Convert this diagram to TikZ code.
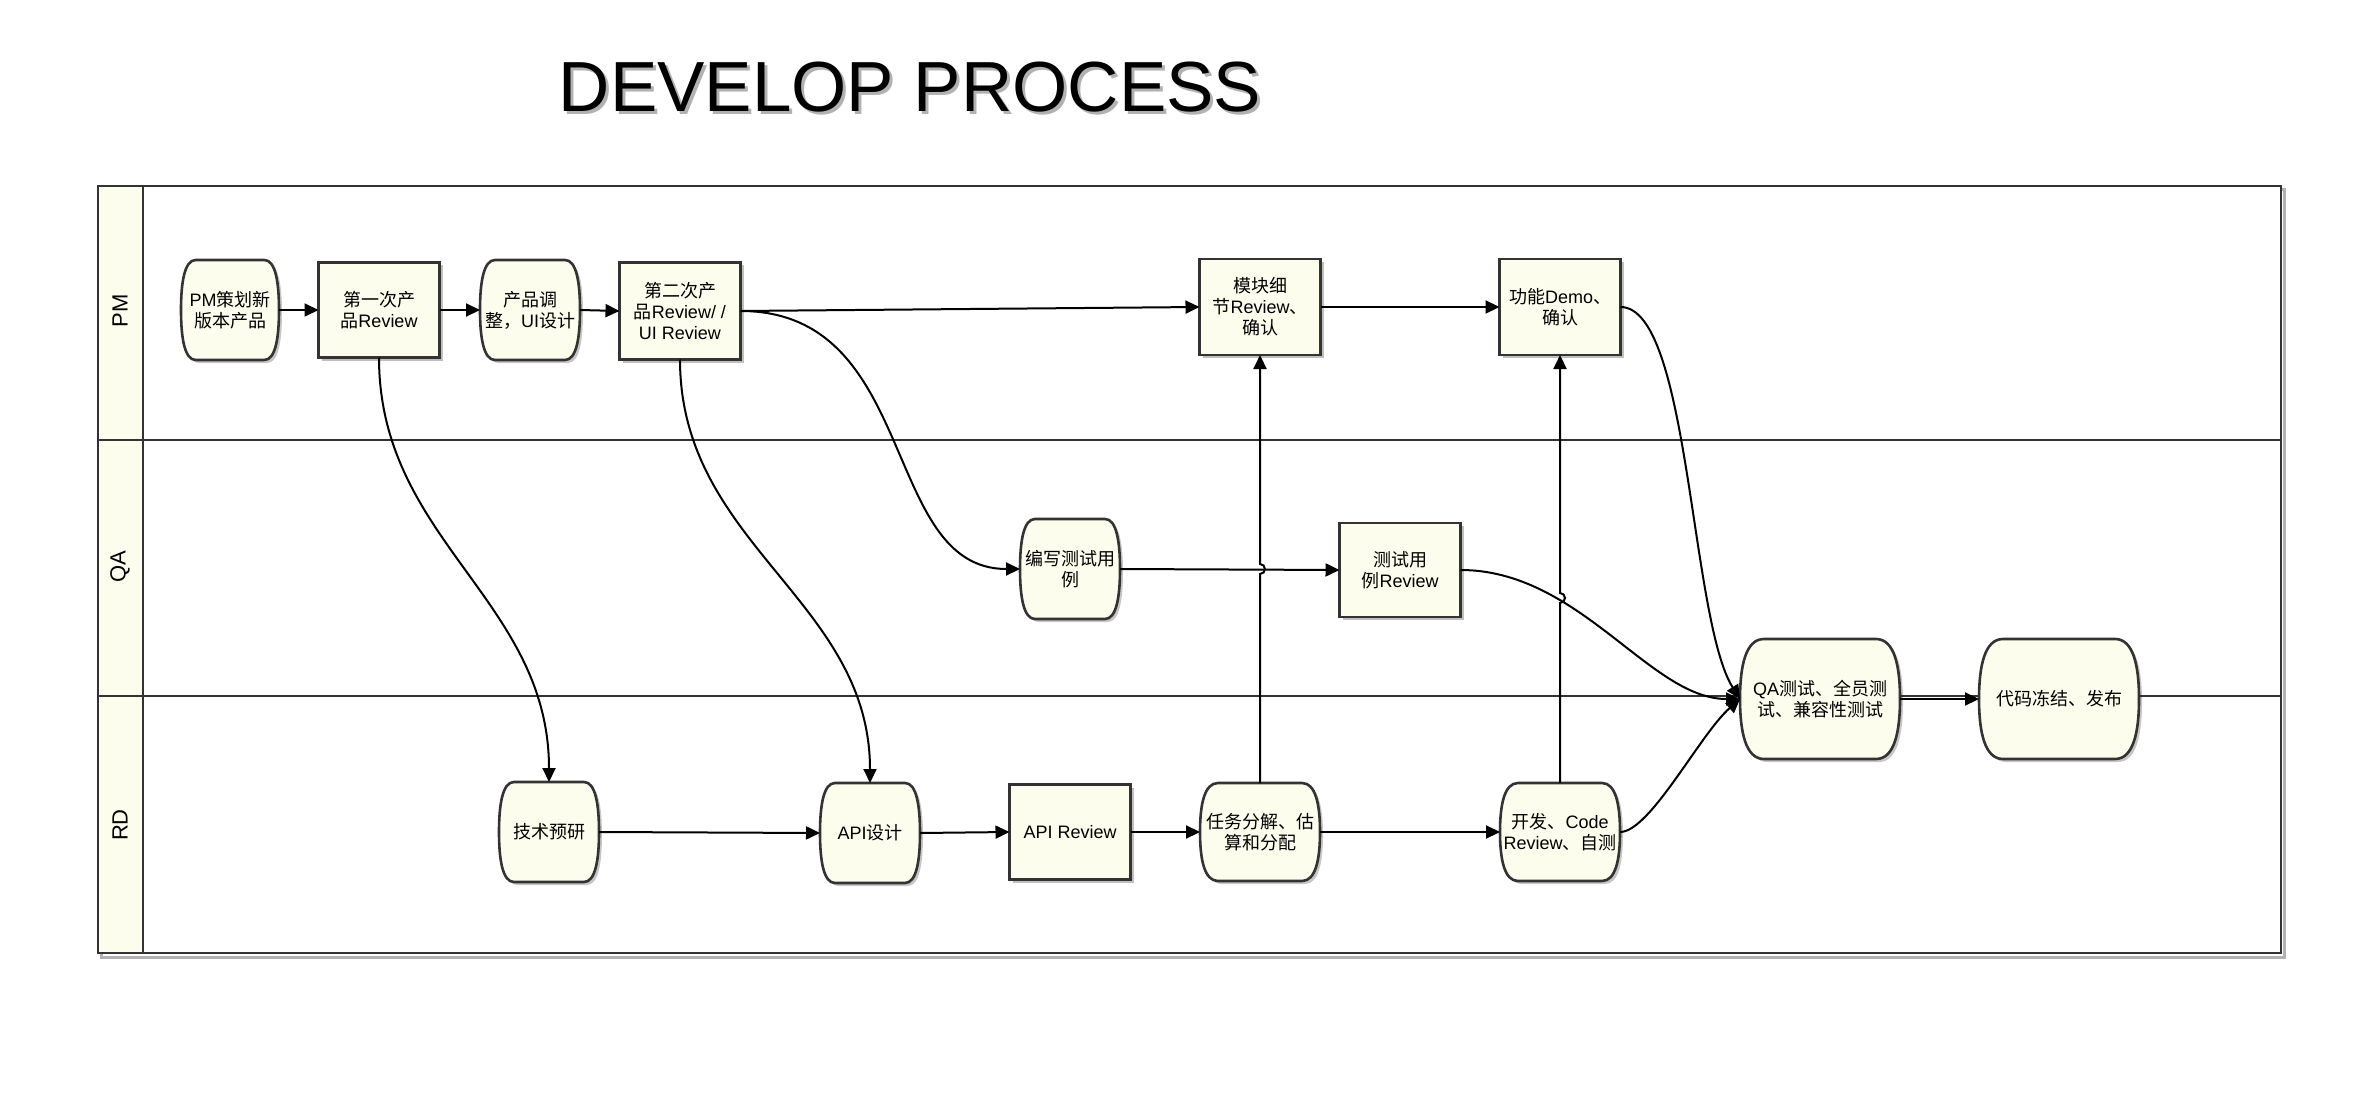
\documentclass[tikz,border=0pt]{standalone}
\usepackage{fontspec}
\setmainfont{Liberation Sans}
\newfontfamily\cjkfont{Noto Sans CJK SC}
\newcommand\zh[1]{{\cjkfont #1}}
\usetikzlibrary{arrows.meta,shadows}
\definecolor{nodefill}{RGB}{253,253,238}
\definecolor{edgegray}{RGB}{51,51,51}
\newcommand\bpath[4]{({#1-0.7*#3},{#2-#4}) -- ({#1+0.7*#3},{#2-#4}) .. controls ({#1+0.93*#3},{#2-#4}) and ({#1+#3},{#2-0.55*#4}) .. ({#1+#3},{#2}) .. controls ({#1+#3},{#2+0.55*#4}) and ({#1+0.93*#3},{#2+#4}) .. ({#1+0.7*#3},{#2+#4}) -- ({#1-0.7*#3},{#2+#4}) .. controls ({#1-0.93*#3},{#2+#4}) and ({#1-#3},{#2+0.55*#4}) .. ({#1-#3},{#2}) .. controls ({#1-#3},{#2-0.55*#4}) and ({#1-0.93*#3},{#2-#4}) .. cycle}
\newcommand\barrel[6]{%
  \fill[black,opacity=0.22,shift={(3,3)}] \bpath{#2}{#3}{#4}{#5};
  \draw[edgegray,line width=1.3pt,fill=nodefill] \bpath{#2}{#3}{#4}{#5};
  \node[txt,minimum width={#4*1pt},minimum height={#5*1pt}] (#1) at (#2,#3) {#6};
}
\begin{document}
\begin{tikzpicture}[x=0.5pt,y=-0.5pt,
  txt/.style={align=center,inner sep=0pt,outer sep=0pt,font=\fontsize{9}{10.5}\selectfont},
  rectnode/.style={txt,draw=edgegray,line width=1.3pt,fill=nodefill,minimum width=60.5pt,minimum height=47.5pt,
    drop shadow={shadow xshift=1.5pt,shadow yshift=-1.5pt,opacity=0.25,fill=black}},
  arr/.style={-{Triangle[length=7pt,width=6.5pt]},line width=1pt,black},
  lane/.style={edgegray,line width=1pt},
  lanelabel/.style={rotate=90,font=\fontsize{11}{13}\selectfont}]
\useasboundingbox (0,0) rectangle (2369,1101);
% title
\node[anchor=base,font=\fontsize{35.5}{40}\selectfont,text=black,opacity=0.3] at (913,115) {DEVELOP PROCESS};
\node[anchor=base,font=\fontsize{35.5}{40}\selectfont] (title) at (910,112) {DEVELOP PROCESS};
% frame
\draw[gray!60,line width=1.5pt] (101,190) rectangle (2284,957);
\fill[white] (98,186) rectangle (2281,953);
\fill[nodefill] (98,186) rectangle (143,953);
\draw[lane] (98,440) -- (2281,440);
\draw[lane] (98,696) -- (2281,696);
\draw[lane] (143,186) -- (143,953);
\draw[edgegray,line width=1.4pt] (98,186) rectangle (2281,953);
\node[lanelabel] (lpm) at (120,311) {PM};
\node[lanelabel] (lqa) at (120,567) {QA};
\node[lanelabel] (lrd) at (120,825) {RD};
% PM lane
\barrel{n1}{230}{310}{49}{50}{PM\zh{策划新}\\\zh{版本产品}}
\node[rectnode] (n2) at (379,310) {\zh{第一次产}\\\zh{品}Review};
\barrel{n3}{530}{310}{50}{50}{\zh{产品调}\\\zh{整，}UI\zh{设计}}
\node[rectnode,minimum height=48.5pt] (n4) at (680,311) {\zh{第二次产}\\\zh{品}Review/ /\\UI Review};
\node[rectnode,minimum height=48pt] (n5) at (1260,307) {\zh{模块细}\\\zh{节}Review\zh{、}\\\zh{确认}};
\node[rectnode,minimum height=48pt] (n6) at (1560,307) {\zh{功能}Demo\zh{、}\\\zh{确认}};
% QA lane
\barrel{n7}{1070}{569}{50}{50}{\zh{编写测试用}\\\zh{例}}
\node[rectnode,minimum height=47pt] (n8) at (1400,570) {\zh{测试用}\\\zh{例}Review};
\barrel{n9}{1820}{699}{80}{60}{QA\zh{测试、全员测}\\\zh{试、兼容性测试}}
\barrel{n10}{2059}{699}{80}{60}{\zh{代码冻结、发布}}
% RD lane
\barrel{n11}{549}{832}{50}{50}{\zh{技术预研}}
\barrel{n12}{870}{833}{50}{50}{API\zh{设计}}
\node[rectnode] (n13) at (1070,832) {API Review};
\barrel{n14}{1260}{832}{60}{49}{\zh{任务分解、估}\\\zh{算和分配}}
\barrel{n15}{1560}{832}{60}{49}{\zh{开发、}Code\\Review\zh{、自测}}
% connectors
\draw[arr] (n1.east) -- (n2.west);
\draw[arr] (n2.east) -- (n3.west);
\draw[arr] (n3.east) -- (n4.west);
\draw[arr] (n4.east) -- (n5.west);
\draw[arr] (n5.east) -- (n6.west);
\draw[arr] (n2.south) .. controls (379,540) and (549,600) .. (n11.north);
\draw[arr] (n4.south) .. controls (680,545) and (870,600) .. (n12.north);
\draw[arr] (n4.east) .. controls (920,311) and (880,569) .. (n7.west);
\draw[arr] (n7.east) -- (n8.west);
\draw[arr] (n11.east) -- (n12.west);
\draw[arr] (n12.east) -- (n13.west);
\draw[arr] (n13.east) -- (n14.west);
\draw[arr] (n14.east) -- (n15.west);
\draw[arr] (n14.north) -- (1260,574) arc[start angle=-90,end angle=90,radius=2.5pt] -- (n5.south);
\draw[arr] (n15.north) -- (1560,603) arc[start angle=-90,end angle=90,radius=2.5pt] -- (n6.south);
\draw[arr] (n6.east) .. controls (1690,307) and (1690,620) .. (n9.west);
\draw[arr] (n8.east) .. controls (1580,570) and (1650,699) .. (n9.west);
\draw[arr] (n15.east) .. controls (1650,832) and (1700,734) .. (n9.west);
\draw[arr] (n9.east) -- (n10.west);
\end{tikzpicture}
\end{document}
